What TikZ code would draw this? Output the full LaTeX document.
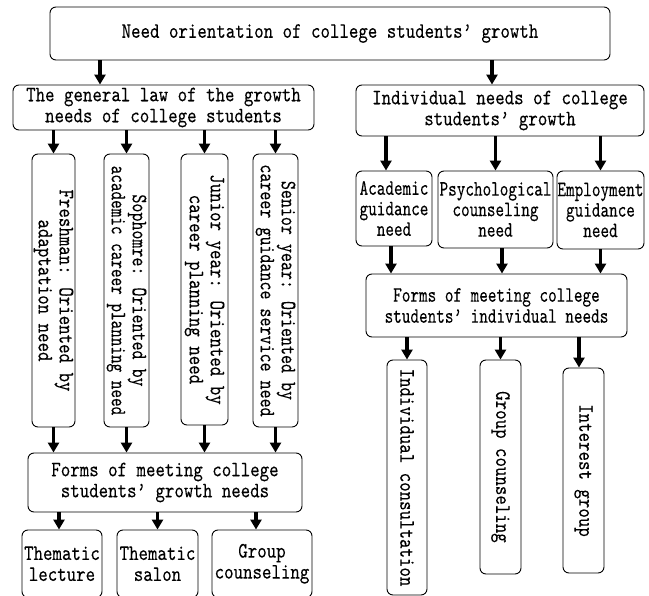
\documentclass[tikz,border=0pt]{standalone}
\usepackage{fontspec}
\newfontfamily\fa{lmmono10-regular.otf}[FakeStretch=0.82,FakeBold=0.15]
\newfontfamily\fm{lmmono10-regular.otf}[FakeStretch=0.78,FakeBold=0.15]
\newfontfamily\fb{lmmono10-regular.otf}[FakeStretch=0.745,FakeBold=0.15]
\usetikzlibrary{arrows.meta}
\begin{document}
\begin{tikzpicture}[x=1pt,y=-1pt,
  box/.style={draw, rounded corners=6pt, line width=0.9pt, inner sep=0pt, align=center,
    font=\fa\fontsize{22}{21}\selectfont},
  vbox/.style={box, rotate=-90},
  arr/.style={line width=3.6pt, -{Triangle[width=11pt,length=10pt]}}]
\fill[white] (0,0) rectangle (649,596);
\clip (0,0) rectangle (649,596);
% top
\node[box, minimum width=560pt, minimum height=53pt] (top) at (330,33.5) {Need orientation of college students’ growth};
% second level
\node[box, minimum width=301pt, minimum height=45pt] (gen) at (163.5,107.5) {The general law of the growth\\needs of college students};
\node[box, minimum width=288pt, minimum height=51pt] (ind) at (500,110.5) {Individual needs of college\\students’ growth};
% left vertical boxes
\node[vbox, minimum width=273pt, minimum height=43pt] (v1) at (53.5,290.5) {Freshman: Oriented by\\adaptation need};
\node[vbox, minimum width=273pt, minimum height=45pt] (v2) at (126.5,290.5) {{\fm Sophomre: Oriented by}\\{\fb academic career planning need}};
\node[vbox, minimum width=271pt, minimum height=47pt] (v3) at (204.5,289.5) {Junior year: Oriented by\\career planning need};
\node[vbox, minimum width=273pt, minimum height=45pt] (v4) at (275.5,290.5) {{\fm Senior year: Oriented by}\\{\fm career guidance service need}};
% left forms
\node[box, minimum width=274pt, minimum height=59pt] (forms) at (165,482.5) {Forms of meeting college\\students’ growth needs};
% bottom left boxes
\node[box, minimum width=80pt, minimum height=67.5pt] (tl) at (62,563.75) {Thematic\\lecture};
\node[box, minimum width=81pt, minimum height=67.5pt] (ts) at (157.5,563.75) {Thematic\\salon};
\node[box, minimum width=100pt, minimum height=67.5pt] (gc) at (262,563.75) {Group\\counseling};
% right need boxes
\node[box, minimum width=76pt, minimum height=75pt, font=\fb\fontsize{22}{20.5}\selectfont] (acad) at (394,208.5) {Academic\\guidance\\need};
\node[box, minimum width=115pt, minimum height=77pt, font=\fb\fontsize{22}{20.5}\selectfont] (psy) at (495.5,209.5) {Psychological\\counseling\\need};
\node[box, minimum width=87pt, minimum height=78pt, font=\fb\fontsize{22}{20.5}\selectfont] (emp) at (600.5,210) {Employment\\guidance\\need};
% right forms
\node[box, minimum width=261pt, minimum height=63pt, font=\fb\fontsize{22}{21}\selectfont] (formsi) at (496.5,305.5) {Forms of meeting college\\students’ individual needs};
% right vertical boxes
\node[vbox, minimum width=235pt, minimum height=40pt] (r1) at (407,477.5) {Individual consultation};
\node[vbox, minimum width=214pt, minimum height=41pt] (r2) at (500.5,467) {Group counseling};
\node[vbox, minimum width=205pt, minimum height=41pt] (r3) at (583.5,470.5) {Interest group};
% arrow x positions
\coordinate (xa) at (100,0);
\coordinate (xb) at (492,0);
\coordinate (xc) at (59,0);
\coordinate (xd) at (256,0);
\coordinate (xe) at (386,0);
\coordinate (xf) at (391,0);
\coordinate (xg) at (502,0);
\coordinate (xh) at (579,0);
% arrows
\draw[arr] (top.south -| xa) -- (gen.north -| xa);
\draw[arr] (top.south -| xb) -- (ind.north -| xb);
\foreach \v in {v1,v2,v3,v4}{
  \draw[arr] (gen.south -| \v.west) -- (\v.west);
  \draw[arr] (\v.east) -- (\v.east |- forms.north);
}
\draw[arr] (forms.south -| xc) -- (tl.north -| xc);
\draw[arr] (forms.south -| ts.north) -- (ts.north);
\draw[arr] (forms.south -| xd) -- (gc.north -| xd);
\draw[arr] (ind.south -| xe) -- (acad.north -| xe);
\draw[arr] (ind.south -| psy.north) -- (psy.north);
\draw[arr] (ind.south -| emp.north) -- (emp.north);
\draw[arr] (acad.south -| xf) -- (formsi.north -| xf);
\draw[arr] (psy.south -| xg) -- (formsi.north -| xg);
\draw[arr] (emp.south) -- (emp.south |- formsi.north);
\draw[arr] (formsi.south -| r1.west) -- (r1.west);
\draw[arr] (formsi.south -| r2.west) -- (r2.west);
\draw[arr] (formsi.south -| xh) -- (r3.west -| xh);
\end{tikzpicture}
\end{document}
